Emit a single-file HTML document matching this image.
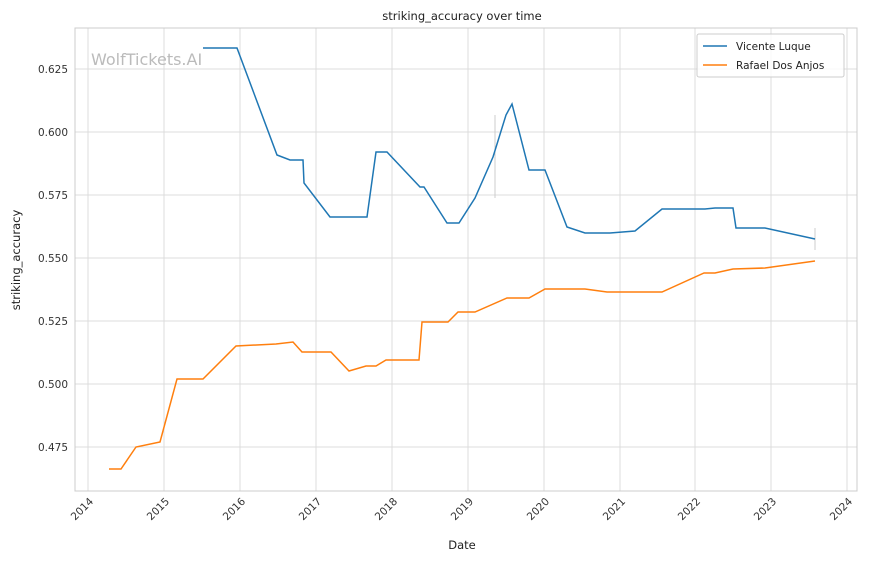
<!DOCTYPE html>
<html><head><meta charset="utf-8"><style>body{margin:0;background:#fff}svg{font-family:"DejaVu Sans","Liberation Sans",sans-serif}</style></head><body>
<svg width="870" height="561" viewBox="0 0 870 561">
<rect width="870" height="561" fill="#fff"/>
<g stroke="#dcdcdc" stroke-width="1">
<line x1="88" y1="28" x2="88" y2="491"/><line x1="164" y1="28" x2="164" y2="491"/><line x1="240" y1="28" x2="240" y2="491"/><line x1="316" y1="28" x2="316" y2="491"/><line x1="392" y1="28" x2="392" y2="491"/><line x1="468" y1="28" x2="468" y2="491"/><line x1="544" y1="28" x2="544" y2="491"/><line x1="620" y1="28" x2="620" y2="491"/><line x1="695" y1="28" x2="695" y2="491"/><line x1="771" y1="28" x2="771" y2="491"/><line x1="847" y1="28" x2="847" y2="491"/>
<line x1="75" y1="69" x2="857" y2="69"/><line x1="75" y1="132" x2="857" y2="132"/><line x1="75" y1="195" x2="857" y2="195"/><line x1="75" y1="258" x2="857" y2="258"/><line x1="75" y1="321" x2="857" y2="321"/><line x1="75" y1="384" x2="857" y2="384"/><line x1="75" y1="447" x2="857" y2="447"/>
</g>
<rect x="75" y="28" width="782" height="463" fill="none" stroke="#ccc"/>
<g font-size="10.5" fill="#333" text-anchor="end">
<text x="68" y="73">0.625</text><text x="68" y="136">0.600</text><text x="68" y="199">0.575</text><text x="68" y="262">0.550</text><text x="68" y="325">0.525</text><text x="68" y="388">0.500</text><text x="68" y="451">0.475</text>
</g>
<g font-size="10.5" fill="#333" text-anchor="end">
<text transform="translate(94,502) rotate(-45)">2014</text><text transform="translate(170,502) rotate(-45)">2015</text><text transform="translate(246,502) rotate(-45)">2016</text><text transform="translate(322,502) rotate(-45)">2017</text><text transform="translate(398,502) rotate(-45)">2018</text><text transform="translate(474,502) rotate(-45)">2019</text><text transform="translate(550,502) rotate(-45)">2020</text><text transform="translate(626,502) rotate(-45)">2021</text><text transform="translate(701,502) rotate(-45)">2022</text><text transform="translate(777,502) rotate(-45)">2023</text><text transform="translate(853,502) rotate(-45)">2024</text>
</g>
<text x="462" y="20" font-size="11.5" text-anchor="middle" fill="#222">striking_accuracy over time</text>
<text x="462" y="549" font-size="11.5" text-anchor="middle" fill="#222">Date</text>
<text transform="translate(20,260) rotate(-90)" font-size="11.5" text-anchor="middle" fill="#222">striking_accuracy</text>
<text x="91" y="65" font-size="16" fill="#bbb">WolfTickets.AI</text>
<line x1="495" y1="115" x2="495" y2="198" stroke="#ccc"/>
<line x1="815" y1="228" x2="815" y2="250" stroke="#ccc"/>
<polyline fill="none" stroke="#1f77b4" stroke-width="1.5" points="203,48 237,48 277,155 290,160 303,160 304,183 330,217 367,217 376,152 387,152 420,187 424,187 447,223 459,223 475,198 493,157 506,115 512,104 529,170 545,170 567,227 585,233 610,233 635,231 662,209 705,209 715,208 733,208 736,228 765,228 815,239"/>
<polyline fill="none" stroke="#ff7f0e" stroke-width="1.5" points="109,469 121,469 136,447 160,442 177,379 203,379 236,346 276,344 293,342 302,352 331,352 349,371 366,366 376,366 386,360 419,360 422,322 448,322 458,312 475,312 507,298 529,298 545,289 585,289 607,292 662,292 704,273 715,273 733,269 765,268 815,261"/>
<rect x="697" y="34" width="147" height="43" fill="#fff" fill-opacity="0.8" stroke="#ccc" rx="2"/>
<line x1="703" y1="46" x2="727" y2="46" stroke="#1f77b4" stroke-width="1.5"/>
<line x1="703" y1="65" x2="727" y2="65" stroke="#ff7f0e" stroke-width="1.5"/>
<text x="736" y="50" font-size="10.5" fill="#222">Vicente Luque</text>
<text x="736" y="69" font-size="10.5" fill="#222">Rafael Dos Anjos</text>
</svg>
</body></html>
